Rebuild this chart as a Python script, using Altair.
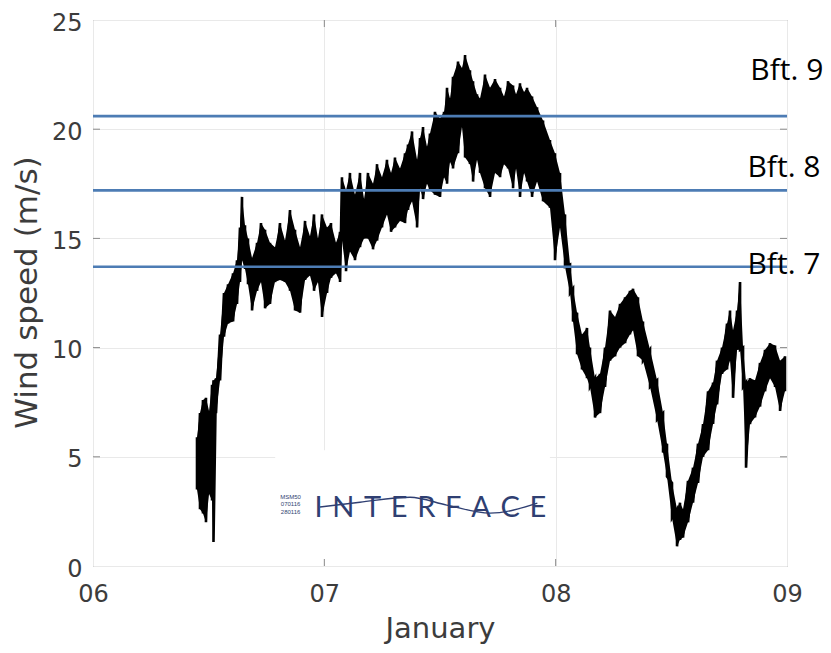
import altair as alt
import pandas as pd

# ---- wind speed record (hours after 06 January 00:00), envelope ----
hours = [10.79, 11.10, 11.41, 11.72, 12.04, 12.35, 12.50, 12.76, 13.18, 13.59,
         14.01, 14.53, 14.94, 15.25, 15.46, 15.77, 16.08, 16.50, 17.02, 17.43,
         17.85, 18.36, 18.88, 19.40, 19.92, 20.44, 20.96, 21.48, 22.00, 22.51,
         22.93, 23.34, 23.76, 24.28, 24.69, 25.21, 25.63, 25.83, 26.25, 26.66,
         27.18, 27.70, 28.12, 28.53, 29.05, 29.47, 29.98, 30.50, 30.92, 31.33,
         31.85, 32.37, 32.68, 33.10, 33.62, 33.93, 34.24, 34.65, 34.96, 35.48,
         36.00, 36.42, 36.73, 37.04, 37.35, 37.87, 38.28, 38.60, 39.11, 39.43,
         39.84, 40.15, 40.67, 41.19, 41.71, 42.23, 42.64, 43.06, 43.58, 43.89,
         44.30, 44.72, 45.03, 45.55, 46.07, 46.69, 47.41, 47.93, 48.45, 48.97,
         49.49, 49.80, 50.22, 50.73, 51.25, 51.56, 52.08, 52.60, 53.12, 53.64,
         54.16, 54.68, 55.20, 55.71, 56.03, 56.54, 57.06, 57.79, 58.52, 59.14,
         59.55, 60.07, 60.59, 60.90, 61.21, 61.73, 62.25, 62.77, 63.29, 63.81,
         64.33, 64.74, 65.26, 65.78, 66.09, 66.40, 66.82, 67.13, 67.44, 67.75,
         68.16, 68.68, 69.20, 69.72, 70.24, 70.76, 71.28, 71.79]

speed_high = [5.9, 7.0, 7.6, 7.7, 7.1, 8.3, 8.5, 8.6, 10.6, 12.5,
              12.9, 13.4, 14.0, 15.5, 16.9, 15.6, 15.0, 14.1, 14.8, 15.7,
              15.4, 14.8, 14.6, 15.7, 14.9, 16.3, 15.4, 14.6, 15.8, 15.1,
              16.1, 15.0, 16.1, 15.5, 15.7, 14.8, 15.3, 17.8, 17.2, 18.0,
              17.0, 18.0, 16.8, 18.0, 17.5, 18.4, 17.8, 18.6, 18.0, 18.7,
              18.2, 18.9, 19.3, 19.9, 18.6, 19.6, 20.1, 19.2, 19.8, 20.8,
              20.5, 20.8, 21.9, 21.4, 22.4, 23.1, 22.8, 23.4, 22.7, 22.2,
              21.6, 21.4, 22.5, 21.9, 22.3, 21.9, 21.5, 22.2, 22.0, 21.6,
              22.1, 21.7, 21.9, 21.5, 21.0, 20.4, 19.5, 18.9, 18.0, 16.1,
              13.8, 12.7, 11.6, 10.6, 10.9, 10.0, 8.6, 8.8, 10.0, 11.7,
              11.4, 12.0, 12.3, 12.6, 12.7, 12.3, 11.2, 9.9, 8.5, 7.0,
              5.6, 3.8, 2.6, 2.9, 2.6, 3.9, 4.5, 5.6, 6.5, 8.0,
              8.4, 9.4, 10.0, 11.1, 11.7, 10.8, 11.7, 13.0, 10.0, 8.4,
              8.6, 8.5, 9.3, 9.9, 10.2, 10.1, 9.4, 9.6]

speed_low = [3.5, 2.6, 2.4, 2.0, 3.3, 3.0, 1.1, 7.0, 8.5, 10.5,
             11.1, 11.2, 12.0, 13.0, 14.0, 13.6, 12.9, 11.7, 12.6, 13.0,
             11.8, 12.0, 13.0, 13.1, 13.0, 12.6, 11.7, 11.6, 13.1, 13.3,
             12.6, 13.0, 11.4, 12.5, 13.2, 13.4, 13.0, 14.9, 13.5, 14.4,
             14.0, 14.6, 15.0, 15.0, 14.5, 14.9, 15.5, 16.1, 15.3, 15.5,
             15.8, 15.7, 16.3, 16.7, 15.5, 17.3, 16.8, 17.5, 17.2, 17.0,
             16.9, 17.8, 17.5, 18.5, 18.2, 18.9, 20.1, 18.7, 18.4, 17.6,
             18.6, 18.0, 17.3, 16.9, 18.0, 17.8, 18.4, 18.2, 17.3, 18.2,
             16.9, 18.0, 17.6, 16.9, 17.6, 16.7, 16.4, 14.0, 15.5, 13.7,
             12.5, 11.2, 9.7, 9.0, 8.6, 8.2, 6.8, 7.0, 8.2, 9.4,
             9.6, 10.0, 10.2, 10.6, 10.8, 9.6, 9.4, 8.2, 6.7, 5.2,
             4.1, 2.2, 0.9, 1.2, 1.3, 2.0, 2.9, 3.8, 5.0, 5.3,
             6.5, 7.4, 8.8, 9.0, 9.4, 7.7, 9.9, 9.9, 8.2, 4.5,
             6.5, 6.8, 7.3, 8.0, 8.6, 8.2, 7.1, 8.0]

# ---- Beaufort thresholds ----
beaufort_speed = [20.6, 17.2, 13.7]
beaufort_labels = ["Bft. 9", "Bft. 8", "Bft. 7"]
beaufort_label_speed = [22.25, 17.8, 13.35]
beaufort_label_hour = [68.2, 67.9, 67.9]

# ---- axes ----
day_ticks = [0, 24, 48, 72]
day_labels = ["06", "07", "08", "09"]
speed_ticks = [0, 5, 10, 15, 20, 25]

# ---- logo ----
logo_box_hour = [18.9, 47.4]
logo_box_speed = [0.1, 5.3]
logo_word = "I\u2004N\u2004T\u2004E\u2004R\u2004F\u2004A\u2004C\u2004E"
logo_word_hour = 35.0
logo_word_speed = 2.24
logo_small_lines = ["MSM50", "070116", "280116"]
logo_small_speed = [3.08, 2.74, 2.40]
logo_small_hour = 20.5
logo_wave_hour = [23.55, 27.7, 32.9, 36.7, 41.2, 46.1]
logo_wave_speed = [2.70, 2.92, 3.15, 2.79, 2.42, 2.88]
logo_color = "#2f3f72"
frame_color = "#8a8a8a"

band = pd.DataFrame({"hour": hours, "hi": speed_high, "lo": speed_low})
zig_rows = []
for i, (h, a, b) in enumerate(zip(hours, speed_high, speed_low)):
    zig_rows.append({"hour": h, "speed": a, "order": 2 * i})
    zig_rows.append({"hour": h, "speed": b, "order": 2 * i + 1})
zig = pd.DataFrame(zig_rows)

W, H = 694, 546

x_axis = alt.Axis(values=day_ticks, labelExpr=f"{day_labels}[datum.value / 24]",
                  title="January", labelPadding=16, labelFlush=False,
                  titleY=71, titleFontSize=29, titleBaseline="alphabetic")
y_axis = alt.Axis(values=speed_ticks, title="Wind speed (m/s)", labelPadding=11,
                  labelOffset=3, labelFlush=False,
                  titleX=-57, titleY=272, titleAlign="center", titleFontSize=31,
                  titleBaseline="alphabetic")
xs = alt.Scale(domain=[0, 72], nice=False, zero=False)
ys = alt.Scale(domain=[0, 25], nice=False)

def X(field):
    return alt.X(field, type="quantitative", scale=xs, axis=x_axis)

def Y(field):
    return alt.Y(field, type="quantitative", scale=ys, axis=y_axis)

logo_box = alt.Chart(pd.DataFrame({"h1": [logo_box_hour[0]], "h2": [logo_box_hour[1]],
                                   "s1": [logo_box_speed[0]], "s2": [logo_box_speed[1]]})
                     ).mark_rect(color="white").encode(x=X("h1"), x2="h2", y=Y("s1"), y2="s2")

# inward (MATLAB-style) tick marks on all four sides
yt = pd.DataFrame({"speed": speed_ticks[1:-1]})
xt = pd.DataFrame({"hour": day_ticks[1:-1]})
tick_l = alt.Chart(yt).mark_rule(color=frame_color).encode(
    y=Y("speed"), x=alt.value(0), x2=alt.value(7))
tick_r = alt.Chart(yt).mark_rule(color=frame_color).encode(
    y=Y("speed"), x=alt.value(W - 7), x2=alt.value(W))
tick_b = alt.Chart(xt).mark_rule(color=frame_color).encode(
    x=X("hour"), y=alt.value(H - 7), y2=alt.value(H))
tick_t = alt.Chart(xt).mark_rule(color=frame_color).encode(
    x=X("hour"), y=alt.value(0), y2=alt.value(7))

area = alt.Chart(band).mark_area(color="black", opacity=1).encode(
    x=X("hour"), y=Y("lo"), y2="hi")
line = alt.Chart(zig).mark_line(color="black", strokeWidth=2.6).encode(
    x=X("hour"), y=Y("speed"), order="order:Q")

rules = alt.Chart(pd.DataFrame({"speed": beaufort_speed})).mark_rule(
    color="#4d7cb4", strokeWidth=2.6).encode(y=Y("speed"))

bft_text = alt.Chart(pd.DataFrame({"hour": beaufort_label_hour,
                                   "speed": beaufort_label_speed,
                                   "label": beaufort_labels})).mark_text(
    align="left", baseline="alphabetic", font="Open Sans", fontSize=30,
    color="black").encode(x=X("hour"), y=Y("speed"), text="label:N")

logo_text = alt.Chart(pd.DataFrame({"hour": [logo_word_hour], "speed": [logo_word_speed],
                                    "t": [logo_word]})).mark_text(
    align="center", baseline="alphabetic", font="Lato", fontWeight=400,
    fontSize=29, color=logo_color).encode(x=X("hour"), y=Y("speed"), text="t:N")

logo_small = alt.Chart(pd.DataFrame({"hour": [logo_small_hour] * 3,
                                     "speed": logo_small_speed,
                                     "t": logo_small_lines})).mark_text(
    align="center", baseline="alphabetic", font="Liberation Sans", fontSize=6,
    color=logo_color).encode(x=X("hour"), y=Y("speed"), text="t:N")

logo_wave = alt.Chart(pd.DataFrame({"hour": logo_wave_hour, "speed": logo_wave_speed})
                      ).mark_line(color=logo_color, strokeWidth=1.4,
                                  interpolate="monotone").encode(
    x=X("hour"), y=Y("speed"))

chart = alt.layer(logo_box, tick_l, tick_r, tick_b, tick_t, area, line, rules,
                  logo_text, logo_small, logo_wave, bft_text).properties(
    width=W, height=H,
    background="white",
    autosize=alt.AutoSizeParams(type="none"),
    padding={"left": 85, "top": 12, "right": 36, "bottom": 78},
).configure_view(stroke=frame_color, strokeWidth=1).configure_axis(
    labelFont="DejaVu Sans", labelFontSize=24, labelColor="#3c3c3c",
    titleFont="DejaVu Sans", titleFontWeight="normal",
    titleColor="#3c3c3c", grid=True, gridColor="#e9e9e9", gridWidth=1,
    domain=False, ticks=False,
)

chart.save("out.html", embed_options={"renderer": "svg", "actions": False})
